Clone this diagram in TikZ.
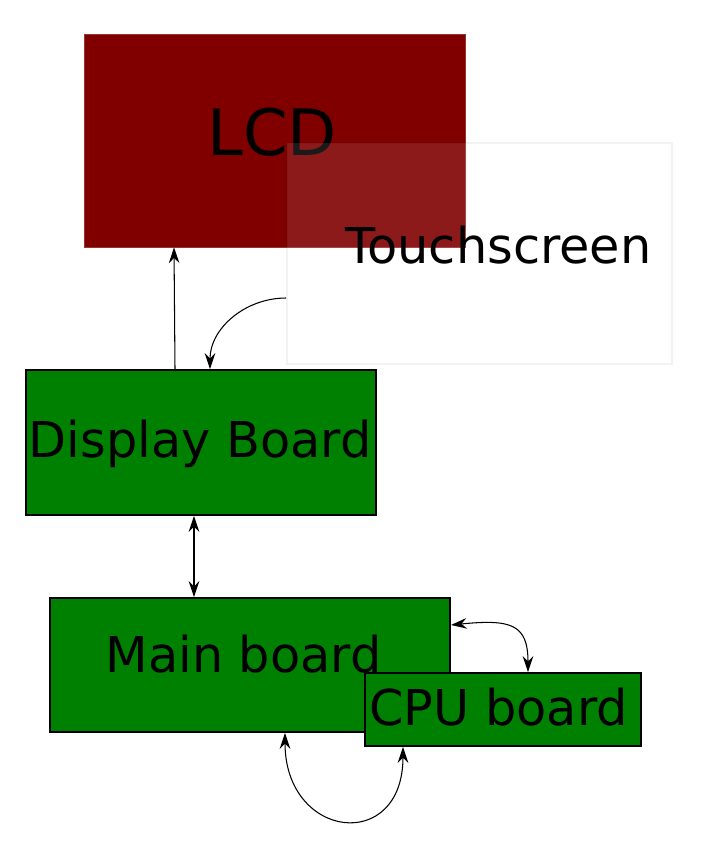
\documentclass[tikz,border=0pt]{standalone}
\usepackage{fontspec}
\setmainfont{DejaVu Sans}
\usepackage{tikz}
\usetikzlibrary{arrows.meta}
\usetikzlibrary{calc}
\usetikzlibrary{positioning}
\definecolor{lcdred}{RGB}{128,0,0}
\definecolor{boardgreen}{RGB}{0,128,0}

\begin{document}
\begin{tikzpicture}[x=0.02cm,y=-0.02cm,>={Stealth[length=9pt,width=6pt,inset=3pt]},
		board/.style={draw=black,line width=1.1pt,fill=boardgreen,inner sep=0pt},
		lbl/.style={anchor=base,inner sep=0pt,font=\fontsize{28.1pt}{33pt}\selectfont},
		link/.style={line width=0.6pt}]
		\useasboundingbox (0,0) rectangle (702,858);
		% screen parts
		\node[fill=lcdred,draw=lcdred!80!white,line width=0.4pt,inner sep=0pt,minimum width=7.62cm,minimum height=4.26cm] (lcd) at (274.5,140.5) {};
		\node[anchor=base,inner sep=0pt,font=\fontsize{36.4pt}{42pt}\selectfont] (lcdtxt) at (272.5,156) {LCD};
		\node[fill=white,draw=black,opacity=0.1,draw opacity=0.05,line width=1pt,inner sep=0pt,minimum width=7.7cm,minimum height=4.42cm] (ts) at (479.5,253.5) {};
		\node[lbl] (tstxt) at (498.5,263) {Touchscreen};
		% boards
		\node[board,minimum width=7cm,minimum height=2.9cm] (disp) at (201,442.5) {};
		\node[lbl] (disptxt) at (200,457) {Display Board};
		\node[board,minimum width=8cm,minimum height=2.68cm] (main) at (250,665) {};
		\node[lbl] (maintxt) at (243.5,672) {Main board};
		\node[board,minimum width=5.52cm,minimum height=1.46cm] (cpu) at (503,709.5) {};
		\node[lbl] (cputxt) at (498.5,725) {CPU board};
		% links
		\draw[link,->] (disp.north -| 175,0) -- (lcd.south -| 174,0);
		\draw[link,->] (ts.west |- 0,298) to[out=180,in=90] (disp.north -| 210,0);
		\draw[link,<->] (disp.south -| 194,0) -- (main.north -| 194,0);
		\draw[link,<->] (main.east |- 0,625) .. controls +(60,-6) and +(0,-48) .. (cpu.north -| 528,0);
		\draw[link,<->] (main.south -| 285,0) to[out=-90,in=-90,looseness=2.3] (cpu.south -| 403,0);
	\end{tikzpicture}
\end{document}
